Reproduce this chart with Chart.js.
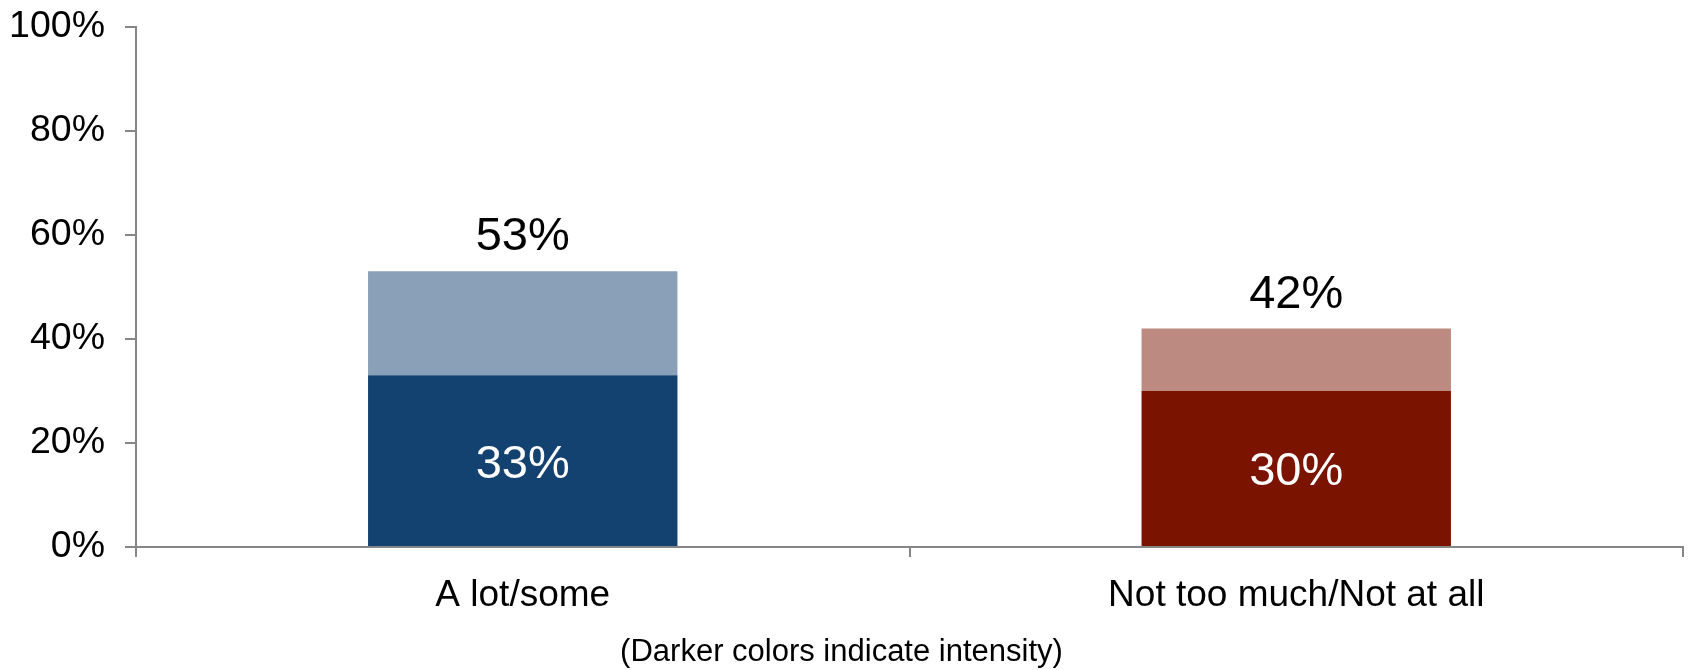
<!DOCTYPE html>
<html>
<head>
<meta charset="utf-8">
<style>
html,body{margin:0;padding:0;background:#fff;}
#wrap{width:1692px;height:670px;position:relative;}
</style>
<script src="https://cdn.jsdelivr.net/npm/chart.js@4/dist/chart.umd.min.js"></script>
</head>
<body>
<div id="wrap"><canvas id="c" width="1692" height="670"></canvas></div>
<script>
const categories = ["A lot/some", "Not too much/Not at all"];
const strongValues = [33, 30];
const otherValues = [20, 12];
const totalLabels = [53, 42];
const yTicks = [0, 20, 40, 60, 80, 100];
const strongColors = ["#134170", "#7A1300"];
const otherColors = ["#8AA0B8", "#BC8A80"];
const footnote = "(Darker colors indicate intensity)";

const FONT = "'Liberation Sans', Arial, sans-serif";

const labelPlugin = {
  id: 'barLabels',
  afterDatasetsDraw(chart) {
    const ctx = chart.ctx;
    const m0 = chart.getDatasetMeta(0);
    const m1 = chart.getDatasetMeta(1);
    ctx.save();
    ctx.font = "47px " + FONT;
    ctx.textAlign = 'center';
    m0.data.forEach((bar, i) => {
      ctx.fillStyle = '#ffffff';
      ctx.textBaseline = 'middle';
      ctx.fillText(strongValues[i] + '%', bar.x, (bar.y + bar.base) / 2 + 4);
    });
    m1.data.forEach((bar, i) => {
      ctx.fillStyle = '#000000';
      ctx.textBaseline = 'alphabetic';
      ctx.fillText(totalLabels[i] + '%', bar.x, bar.y - 21);
    });
    ctx.restore();
  }
};

new Chart(document.getElementById('c'), {
  type: 'bar',
  data: {
    labels: categories,
    datasets: [
      { data: strongValues, backgroundColor: strongColors, borderWidth: 0 },
      { data: otherValues, backgroundColor: otherColors, borderWidth: 0 }
    ]
  },
  options: {
    responsive: false,
    animation: false,
    devicePixelRatio: 1,
    barPercentage: 0.4,
    categoryPercentage: 1.0,
    layout: { padding: { top: 27, right: 9, left: 0, bottom: 0 } },
    plugins: {
      legend: { display: false },
      tooltip: { enabled: false },
      title: {
        display: true,
        position: 'bottom',
        text: footnote,
        color: '#000',
        font: { family: FONT, size: 31, weight: 'normal', lineHeight: 1.1 },
        padding: { top: 0, bottom: 0 }
      }
    },
    scales: {
      x: {
        stacked: true,
        grid: { display: true, drawOnChartArea: false, offset: true, color: '#868686', tickLength: 10, lineWidth: 2 },
        border: { display: true, color: '#868686', width: 2 },
        ticks: { color: '#000', font: { family: FONT, size: 37 }, padding: 17 },
        afterFit(s) { s.height = 89; s.paddingLeft = 0; s.paddingRight = 0; }
      },
      y: {
        stacked: true,
        min: 0, max: 100,
        afterBuildTicks(s) { s.ticks = yTicks.map(v => ({ value: v })); },
        grid: { display: true, drawOnChartArea: false, color: '#868686', tickLength: 11, lineWidth: 2 },
        border: { display: true, color: '#868686', width: 2 },
        ticks: { color: '#000', font: { family: FONT, size: 37.5 }, padding: 20, callback: v => v + '%' },
        afterFit(s) { s.width = 136; s.paddingTop = 0; s.paddingBottom = 0; }
      }
    }
  },
  plugins: [labelPlugin]
});
</script>
</body>
</html>
